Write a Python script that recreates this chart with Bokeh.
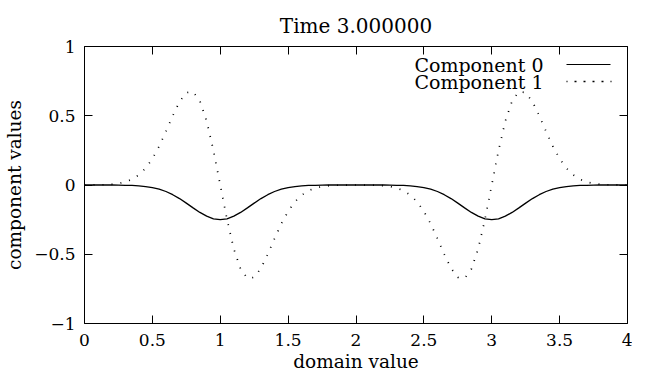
from bokeh.plotting import figure
from bokeh.models import LinearAxis, FixedTicker, Label, BoxAnnotation, Range1d
from bokeh.embed import file_html
from bokeh.resources import INLINE

# ---- data ----
x_values = [round(i * 0.05, 2) for i in range(81)]

component_0 = [
    0.000, 0.000, 0.000, 0.000, 0.000, -0.001, -0.002, -0.003, -0.006, -0.011,
    -0.019, -0.030, -0.047, -0.070, -0.098, -0.131, -0.165, -0.198, -0.225, -0.244,
    -0.250, -0.244, -0.225, -0.198, -0.165, -0.131, -0.098, -0.070, -0.047, -0.030,
    -0.019, -0.011, -0.006, -0.003, -0.002, -0.001, 0.000, 0.000, 0.000, 0.000,
    0.000,
    0.000, 0.000, 0.000, 0.000, -0.001, -0.002, -0.003, -0.006, -0.011, -0.019,
    -0.030, -0.047, -0.070, -0.098, -0.131, -0.165, -0.198, -0.225, -0.244, -0.250,
    -0.244, -0.225, -0.198, -0.165, -0.131, -0.098, -0.070, -0.047, -0.030, -0.019,
    -0.011, -0.006, -0.003, -0.002, -0.001, 0.000, 0.000, 0.000, 0.000, 0.000,
]

component_1 = [
    0.000, 0.000, 0.001, 0.002, 0.005, 0.011, 0.022, 0.041, 0.073, 0.121,
    0.190, 0.280, 0.387, 0.500, 0.601, 0.667, 0.674, 0.607, 0.461, 0.249,
    0.000, -0.249, -0.461, -0.607, -0.674, -0.667, -0.601, -0.500, -0.387, -0.280,
    -0.190, -0.121, -0.073, -0.041, -0.022, -0.011, -0.005, -0.002, -0.001, 0.000,
    0.000,
    0.000, -0.001, -0.002, -0.005, -0.011, -0.022, -0.041, -0.073, -0.121, -0.190,
    -0.280, -0.387, -0.500, -0.601, -0.667, -0.674, -0.607, -0.461, -0.249, 0.000,
    0.249, 0.461, 0.607, 0.674, 0.667, 0.601, 0.500, 0.387, 0.280, 0.190,
    0.121, 0.073, 0.041, 0.022, 0.011, 0.005, 0.002, 0.001, 0.000, 0.000,
]

x_ticks = [0, 0.5, 1, 1.5, 2, 2.5, 3, 3.5, 4]
x_tick_labels = ["0", "0.5", "1", "1.5", "2", "2.5", "3", "3.5", "4"]
y_ticks = [-1, -0.5, 0, 0.5, 1]
y_tick_labels = ["\u22121", "\u22120.5", "0", "0.5", "1"]
series_names = ["Component 0", "Component 1"]
title_text = "Time 3.000000"
x_label = "domain value"
y_label = "component values"

FONT = "DejaVu Serif"
TICK_FS = "17px"
LABEL_FS = "18.5px"
TITLE_FS = "20px"
LEGEND_FS = "19px"

W, H = 632, 374
BL, BR, BT, BB = 84, 5, 46, 50

p = figure(width=W, height=H, x_range=Range1d(0, 4), y_range=Range1d(-1, 1),
           output_backend="svg", toolbar_location=None,
           min_border_left=BL, min_border_right=BR, min_border_top=BT, min_border_bottom=BB,
           x_axis_location=None, y_axis_location=None)
p.background_fill_color = "white"
p.border_fill_color = "white"
p.outline_line_color = "black"
p.outline_line_width = 1
p.grid.visible = False

p.title.text = title_text
p.title.align = "center"
p.title.text_font = FONT
p.title.text_font_size = TITLE_FS
p.title.text_font_style = "normal"
p.title.text_color = "black"
p.title.offset = 0
p.title.standoff = 18


def make_axis(ticks, labels, show_labels):
    ax = LinearAxis(ticker=FixedTicker(ticks=ticks))
    ax.major_label_overrides = {t: l for t, l in zip(ticks, labels)}
    ax.axis_line_color = None
    ax.major_tick_in = 8
    ax.major_tick_out = 0
    ax.major_tick_line_color = "black"
    ax.minor_tick_line_color = None
    ax.major_label_text_font = FONT
    ax.major_label_text_font_size = TICK_FS if show_labels else "0px"
    ax.major_label_text_color = "black" if show_labels else None
    ax.axis_label_text_font = FONT
    ax.axis_label_text_font_size = LABEL_FS
    ax.axis_label_text_font_style = "normal"
    ax.axis_label_text_color = "black"
    if not show_labels:
        ax.major_label_standoff = 0
    return ax


xb = make_axis(x_ticks, x_tick_labels, True)
xb.axis_label = x_label
xb.major_label_standoff = 10
xb.axis_label_standoff = 2
p.add_layout(xb, "below")

yl = make_axis(y_ticks, y_tick_labels, True)
yl.axis_label = y_label
yl.major_label_standoff = 9
yl.axis_label_standoff = 6
p.add_layout(yl, "left")

p.add_layout(make_axis(x_ticks, x_tick_labels, False), "above")
p.add_layout(make_axis(y_ticks, y_tick_labels, False), "right")

p.line(x_values, component_0, line_color="black", line_width=1.3)
p.line(x_values, component_1, line_color="black", line_width=1.7, line_dash="1 8")

# ---- legend (gnuplot style: text right-aligned, sample to the right) ----
frame_w = W - BL - BR
frame_h = H - BT - BB
row_y = [frame_h - 19, frame_h - 36]
for name, ry in zip(series_names, row_y):
    p.add_layout(Label(x=frame_w - 84, y=ry, x_units="screen", y_units="screen",
                       text=name, text_align="right", text_baseline="middle",
                       text_font=FONT, text_font_size=LEGEND_FS, text_color="black"))

p.add_layout(BoxAnnotation(left=frame_w - 61, right=frame_w - 17,
                           bottom=row_y[0], top=row_y[0],
                           left_units="screen", right_units="screen",
                           top_units="screen", bottom_units="screen",
                           fill_alpha=0, line_color="black", line_alpha=1,
                           line_width=1.2))
p.add_layout(BoxAnnotation(left=frame_w - 61, right=frame_w - 16,
                           bottom=row_y[1], top=row_y[1],
                           left_units="screen", right_units="screen",
                           top_units="screen", bottom_units="screen",
                           fill_alpha=0, line_color="black", line_alpha=1,
                           line_width=1.7, line_dash="1 8"))

open("out.html", "w").write(file_html(p, INLINE))
